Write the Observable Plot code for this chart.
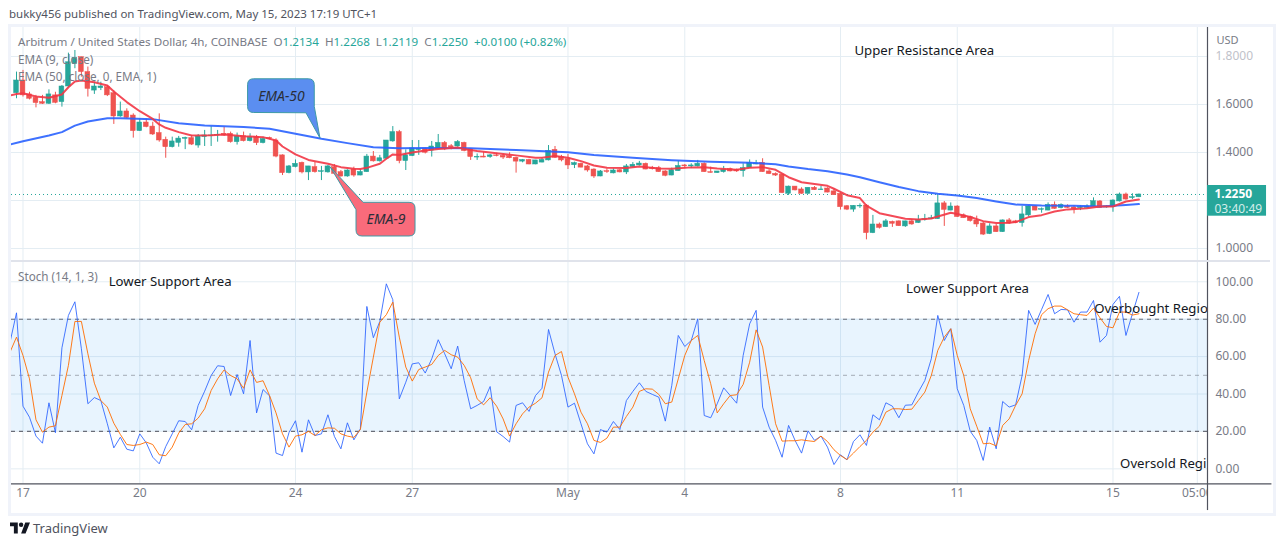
<!DOCTYPE html>
<html><head><meta charset="utf-8">
<script src="https://cdn.jsdelivr.net/npm/d3@7"></script>
<script src="https://cdn.jsdelivr.net/npm/@observablehq/plot@0.6"></script>
<style>
html,body{margin:0;padding:0;background:#fff;width:1280px;height:546px;overflow:hidden}
body{font-family:"Noto Sans",sans-serif;position:relative;color:#131722}
.abs{position:absolute;white-space:pre}
.g{color:#26a69a}
.leg{color:#787b86;font-size:11.7px;line-height:14px}
svg{display:block;overflow:visible}
</style></head><body>
<div class="abs" style="left:9px;top:6px;font-size:11.5px;line-height:16px;color:#50535e" id="pub"></div>
<div class="abs" style="left:8px;top:24px;width:1262px;height:486px;border:3px solid #f0f3fa"></div>
<div class="abs" style="left:11px;top:260px;width:1259px;height:2px;background:#e0e3eb"></div>
<div class="abs" id="top" style="left:0;top:27px"></div>
<div class="abs" id="bot" style="left:0;top:262px"></div>
<div class="abs leg" id="ohlc" style="left:18px;top:35px;font-size:11.62px"></div>
<div class="abs leg" id="ema9" style="left:18px;top:52px"></div>
<div class="abs leg" id="ema50" style="left:18px;top:69px"></div>
<div class="abs leg" id="st" style="left:18px;top:269px"></div>
<svg class="abs" style="left:10px;top:522px" width="20" height="12" viewBox="0 0 36 20"><path fill="#131722" d="M14 20H7V7H0V0h14v20zM28 20h-8l7.5-20H36l-8 20z"/><circle cx="20" cy="4" r="4" fill="#131722"/></svg>
<div class="abs" id="tv" style="left:33px;top:520px;font-size:13px;line-height:16px;color:#50535e"></div>
<script>
const publishedText = "bukky456 published on TradingView.com, May 15, 2023 17:19 UTC+1";
const symbolText = "Arbitrum / United States Dollar, 4h, COINBASE";
const ohlcLabels = ["O","H","L","C"];
const ohlcValues = ["1.2134","1.2268","1.2119","1.2250"];
const changeText = "+0.0100 (+0.82%)";
const ema9Text = "EMA (9, close)";
const ema50Text = "EMA (50, close, 0, EMA, 1)";
const stochText = "Stoch (14, 1, 3)";

// candles: first is index -1 (6.49px per 4h candle; index 0 = Apr 17 00:00)
const firstCandle = -1;
const opens = [1.647,1.700,1.642,1.628,1.610,1.603,1.638,1.610,1.675,1.769,
1.797,1.735,1.658,1.668,1.672,1.647,1.550,1.571,1.554,1.489,
1.525,1.508,1.481,1.453,1.422,1.440,1.457,1.460,1.429,1.464,
1.468,1.471,1.478,1.478,1.443,1.468,1.447,1.464,1.439,1.461,
1.450,1.388,1.314,1.339,1.357,1.317,1.339,1.319,1.317,1.339,
1.318,1.300,1.329,1.304,1.318,1.383,1.363,1.374,1.446,1.485,
1.364,1.385,1.410,1.415,1.408,1.415,1.440,1.426,1.425,1.440,
1.413,1.379,1.383,1.381,1.388,1.386,1.385,1.378,1.362,1.369,
1.350,1.358,1.367,1.411,1.381,1.372,1.347,1.353,1.342,1.329,
1.300,1.322,1.313,1.326,1.317,1.339,1.346,1.353,1.336,1.335,
1.321,1.304,1.322,1.346,1.342,1.342,1.353,1.318,1.314,1.318,
1.331,1.328,1.322,1.336,1.350,1.357,1.321,1.311,1.308,1.228,
1.258,1.246,1.228,1.253,1.243,1.250,1.238,1.228,1.176,1.162,
1.175,1.179,1.064,1.100,1.089,1.111,1.113,1.092,1.113,1.106,
1.119,1.122,1.122,1.188,1.158,1.175,1.138,1.131,1.117,1.104,
1.060,1.092,1.068,1.117,1.113,1.106,1.138,1.175,1.161,1.158,
1.182,1.168,1.175,1.171,1.168,1.169,1.175,1.196,1.171,1.172,
1.196,1.225,1.210,1.2134];
const highs = [1.735,1.742,1.651,1.638,1.638,1.661,1.651,1.679,1.814,1.825,
1.797,1.756,1.693,1.693,1.679,1.658,1.610,1.582,1.561,1.540,
1.540,1.526,1.561,1.464,1.464,1.467,1.464,1.471,1.475,1.492,
1.508,1.492,1.506,1.485,1.481,1.485,1.478,1.471,1.464,1.464,
1.457,1.390,1.346,1.369,1.360,1.342,1.360,1.342,1.346,1.350,
1.325,1.328,1.339,1.329,1.392,1.404,1.388,1.450,1.508,1.492,
1.411,1.450,1.450,1.418,1.446,1.475,1.446,1.433,1.450,1.443,
1.415,1.394,1.401,1.392,1.397,1.392,1.399,1.381,1.371,1.372,
1.367,1.378,1.429,1.425,1.388,1.392,1.360,1.356,1.346,1.332,
1.325,1.331,1.332,1.329,1.350,1.358,1.363,1.356,1.342,1.342,
1.324,1.335,1.364,1.350,1.353,1.367,1.357,1.339,1.321,1.342,
1.335,1.331,1.353,1.369,1.367,1.374,1.328,1.315,1.308,1.260,
1.258,1.253,1.254,1.258,1.260,1.253,1.249,1.231,1.179,1.179,
1.186,1.183,1.138,1.106,1.121,1.114,1.115,1.114,1.121,1.138,
1.142,1.138,1.225,1.196,1.190,1.178,1.144,1.135,1.135,1.110,
1.103,1.100,1.119,1.125,1.117,1.176,1.178,1.178,1.169,1.190,
1.194,1.186,1.182,1.178,1.178,1.182,1.211,1.200,1.178,1.203,
1.231,1.231,1.228,1.2268];
const lows = [1.624,1.631,1.619,1.586,1.600,1.600,1.603,1.589,1.672,1.749,
1.714,1.631,1.642,1.658,1.633,1.517,1.547,1.540,1.460,1.488,
1.503,1.471,1.443,1.376,1.419,1.422,1.412,1.429,1.418,1.425,
1.425,1.443,1.467,1.439,1.431,1.444,1.444,1.429,1.436,1.453,
1.378,1.304,1.311,1.336,1.311,1.283,1.314,1.283,1.314,1.308,
1.297,1.297,1.297,1.303,1.317,1.360,1.360,1.372,1.443,1.353,
1.325,1.383,1.388,1.394,1.381,1.413,1.408,1.411,1.422,1.403,
1.367,1.367,1.378,1.376,1.382,1.371,1.374,1.314,1.357,1.349,
1.349,1.357,1.365,1.375,1.361,1.329,1.333,1.336,1.318,1.292,
1.299,1.313,1.311,1.315,1.308,1.336,1.343,1.328,1.327,1.317,
1.299,1.303,1.321,1.332,1.333,1.339,1.317,1.314,1.313,1.314,
1.319,1.317,1.297,1.335,1.349,1.317,1.308,1.300,1.229,1.221,
1.240,1.226,1.226,1.242,1.242,1.232,1.221,1.160,1.158,1.151,
1.167,1.036,1.062,1.081,1.088,1.088,1.092,1.088,1.097,1.104,
1.114,1.121,1.121,1.092,1.157,1.129,1.125,1.110,1.088,1.054,
1.058,1.067,1.067,1.100,1.103,1.089,1.132,1.157,1.147,1.157,
1.163,1.165,1.167,1.144,1.158,1.168,1.174,1.168,1.168,1.151,
1.194,1.201,1.204,1.2119];
const closes = [1.700,1.638,1.624,1.606,1.603,1.642,1.607,1.675,1.776,1.794,
1.735,1.665,1.675,1.675,1.638,1.550,1.571,1.544,1.489,1.525,
1.506,1.475,1.450,1.422,1.446,1.458,1.461,1.433,1.467,1.471,
1.471,1.474,1.471,1.443,1.467,1.447,1.464,1.439,1.456,1.456,
1.383,1.314,1.342,1.353,1.317,1.342,1.318,1.322,1.342,1.311,
1.300,1.325,1.304,1.319,1.383,1.363,1.376,1.450,1.485,1.364,
1.388,1.417,1.415,1.399,1.425,1.440,1.413,1.421,1.444,1.406,
1.381,1.382,1.379,1.388,1.385,1.379,1.376,1.362,1.369,1.350,
1.367,1.369,1.407,1.378,1.367,1.346,1.356,1.337,1.325,1.300,
1.321,1.319,1.325,1.317,1.342,1.349,1.354,1.329,1.331,1.318,
1.303,1.326,1.344,1.342,1.346,1.353,1.318,1.315,1.321,1.328,
1.321,1.321,1.335,1.356,1.354,1.318,1.310,1.304,1.231,1.258,
1.242,1.228,1.253,1.243,1.246,1.233,1.222,1.172,1.162,1.178,
1.178,1.064,1.100,1.086,1.113,1.103,1.093,1.113,1.100,1.119,
1.122,1.126,1.188,1.161,1.175,1.131,1.126,1.114,1.100,1.058,
1.092,1.068,1.117,1.104,1.106,1.142,1.175,1.158,1.164,1.182,
1.165,1.182,1.169,1.164,1.172,1.175,1.197,1.169,1.175,1.200,
1.225,1.204,1.214,1.2250];

const ema9Idx = [-2,-1,0,2,4,6,7,8,9,11,13,14,16,18,20,21,22,24,26,29,31,34,37,39,40,42,44,47,49,51,52,53,55,56,57,58,60,62,64,67,68,70,73,76,79,80,82,84,86,88,90,93,95,98,100,103,105,107,110,112,114,116,118,120,122,124,125,127,129,130,132,134,136,138,140,141,143,144,146,148,150,152,153,155,157,159,161,164,166,168,170,172];
const ema9Val = [1.638,1.644,1.647,1.633,1.628,1.642,1.672,1.696,1.700,1.693,1.679,1.654,1.610,1.572,1.540,1.517,1.503,1.485,1.471,1.472,1.475,1.468,1.464,1.450,1.425,1.392,1.369,1.353,1.339,1.332,1.331,1.336,1.353,1.374,1.392,1.390,1.400,1.408,1.415,1.421,1.415,1.406,1.397,1.388,1.378,1.378,1.385,1.378,1.364,1.346,1.336,1.335,1.342,1.333,1.332,1.338,1.339,1.333,1.328,1.336,1.339,1.328,1.297,1.276,1.269,1.261,1.249,1.222,1.210,1.179,1.147,1.135,1.124,1.121,1.125,1.133,1.149,1.144,1.131,1.114,1.106,1.107,1.110,1.131,1.139,1.154,1.163,1.168,1.175,1.175,1.196,1.204];
const ema50Idx = [-2,0,4,6,8,10,13,15,20,24,28,34,38,42,46,50,54,58,62,69,76,84,88,94,100,106,112,116,118,121,124,127,129,132,135,138,141,144,147,150,153,157,162,166,170,172];
const ema50Val = [1.433,1.447,1.471,1.485,1.512,1.529,1.543,1.543,1.539,1.522,1.512,1.506,1.499,1.478,1.457,1.439,1.422,1.418,1.419,1.418,1.410,1.401,1.390,1.378,1.368,1.361,1.357,1.351,1.342,1.331,1.322,1.308,1.297,1.276,1.256,1.239,1.228,1.221,1.210,1.196,1.183,1.179,1.178,1.175,1.181,1.185];

// stochastic: first is index -2
const firstStoch = -2;
const stochK = [67.7,83.4,33.5,27.6,17.5,13.7,35.3,19.3,64.7,82.0,89.3,64.2,34.8,38.1,36.5,24.1,11.2,16.9,10.5,9.6,
18.7,13.9,6.2,2.7,11.9,18.7,25.7,25.3,20.9,33.9,41.5,49.9,55.1,54.7,39.2,50.4,40.1,68.6,29.9,42.4,
39.0,8.4,7.1,19.4,25.7,8.9,26.2,17.8,18.7,28.9,17.3,10.7,24.6,15.5,21.4,86.8,70.1,78.8,98.9,90.4,
37.4,46.3,56.1,56.7,51.2,58.8,69.0,61.5,53.5,65.6,47.2,32.1,33.9,36.0,44.0,19.8,17.3,14.3,33.9,35.3,
30.7,39.2,43.1,74.5,61.5,49.9,33.0,35.1,24.1,13.4,8.0,21.0,19.6,25.3,21.0,36.5,41.4,46.0,41.4,39.8,
38.3,25.5,44.6,71.3,65.4,68.6,80.2,28.5,27.3,34.8,43.3,39.2,35.1,60.6,77.5,84.7,33.0,22.3,15.2,6.2,
23.2,15.2,8.4,20.3,15.2,17.5,11.6,2.3,7.5,4.8,14.6,18.2,12.5,28.9,26.2,35.3,33.5,27.3,34.0,34.2,
41.0,47.2,58.8,82.0,68.6,74.9,42.8,33.9,20.1,15.2,4.5,22.3,10.7,36.0,33.0,34.2,49.9,84.7,77.2,85.2,
93.2,82.9,85.2,85.0,78.4,83.8,83.8,90.0,67.7,71.3,87.9,92.2,71.3,82.9,94.3];
const stochD = [62.4,70.4,60.6,48.1,26.2,19.6,22.3,23.0,39.2,55.3,78.8,78.8,61.5,45.8,36.5,33.0,24.4,18.4,13.0,12.5,
13.0,14.3,13.0,7.5,7.0,11.6,19.1,23.7,24.1,27.1,32.1,41.9,48.1,52.9,49.9,48.1,43.1,52.9,46.2,47.1,
39.2,29.9,18.7,11.6,17.5,18.2,20.0,17.8,20.9,21.9,21.7,18.7,17.5,16.8,21.0,41.0,59.7,78.4,82.4,89.1,
70.4,54.4,46.9,53.1,54.4,55.8,60.6,63.3,61.0,59.7,55.3,48.7,37.4,34.2,38.0,33.5,26.7,17.5,24.1,29.4,
33.0,35.1,38.0,51.7,60.6,62.7,49.0,40.1,30.3,24.1,15.2,14.1,16.4,22.3,22.3,28.0,33.0,41.4,42.8,42.6,
39.8,34.8,35.7,48.1,60.6,68.6,71.3,57.9,45.5,29.9,34.8,39.2,39.6,45.1,57.0,74.3,65.1,44.6,24.1,14.8,
15.0,15.0,15.5,15.0,14.6,17.5,14.6,10.2,7.1,5.0,8.4,11.9,15.2,19.6,22.8,30.3,32.1,32.1,31.7,31.9,
36.5,41.0,49.9,63.3,70.4,74.9,60.6,49.9,32.1,22.8,13.4,13.7,12.3,23.2,26.7,33.9,40.1,57.9,72.2,82.4,
85.6,87.0,87.0,85.0,82.9,82.4,82.0,85.9,80.7,76.1,75.4,83.8,83.8,82.2,82.9];

const timeTickIdx = [0,18,42,60,84,102,126,144,168,181];
const timeTickLabels = ["17","20","24","27","May","4","8","11","15","05:00"];
const priceTicks = [1.0,1.4,1.6];
const fadedPriceTicks = [1.8];
const priceGrid = [1.0,1.2,1.4,1.6,1.8];
const stochTicks = [0,20,40,60,80,100];
const lastPrice = 1.2250;
const countdown = "03:40:49";
const lastPriceText = "1.2250";

const UP="#26a69a", DOWN="#ef5350", GRID="#e4edf3", TXT="#787b86", AXIS="#50535e";
const FONT='"Noto Sans",sans-serif';
const xMin=-1.772, xMax=182.57, xPanel=192.3;
const W=1280, ML=11, MR=73;

document.getElementById("pub").textContent=publishedText;
document.getElementById("ema9").textContent=ema9Text;
document.getElementById("ema50").textContent=ema50Text;
document.getElementById("st").textContent=stochText;
document.getElementById("tv").textContent="TradingView";
document.getElementById("ohlc").innerHTML=symbolText+"  "+ohlcLabels.map((l,i)=>l+'<span class="g">'+ohlcValues[i]+'</span>').join("  ")+'  <span class="g">'+changeText+'</span>';

const candles=opens.map((o,i)=>({k:i+firstCandle,o,h:highs[i],l:lows[i],c:closes[i],up:closes[i]>=o}));
const colorOf=d=>d.up?UP:DOWN;
const ema9=ema9Idx.map((k,i)=>({k,v:ema9Val[i]}));
const ema50=ema50Idx.map((k,i)=>({k,v:ema50Val[i]}));
const kLine=stochK.map((v,i)=>({k:i+firstStoch,v}));
const dLine=stochD.map((v,i)=>({k:i+firstStoch,v}));

function callout(tipK,tipP,box,base,fill,stroke){
  return (index,scales)=>{
    const X=scales.x(tipK),Y=scales.y(tipP),r=6;
    const [x0,x1,y0,y1]=[X+box[0],X+box[1],Y+box[2],Y+box[3]];
    const p=d3.path();
    const pts=base.map(b=>[X+b[0],Y+b[1]]);
    if(base.kind==="br"){
      p.moveTo(x0+r,y0);p.lineTo(x1-r,y0);p.quadraticCurveTo(x1,y0,x1,y0+r);
      p.lineTo(pts[0][0],pts[0][1]);p.lineTo(X,Y);p.lineTo(pts[1][0],pts[1][1]);
      p.lineTo(x0+r,y1);p.quadraticCurveTo(x0,y1,x0,y1-r);p.lineTo(x0,y0+r);p.quadraticCurveTo(x0,y0,x0+r,y0);
    } else {
      p.moveTo(pts[0][0],pts[0][1]);p.lineTo(x1-r,y0);p.quadraticCurveTo(x1,y0,x1,y0+r);
      p.lineTo(x1,y1-r);p.quadraticCurveTo(x1,y1,x1-r,y1);p.lineTo(x0+r,y1);p.quadraticCurveTo(x0,y1,x0,y1-r);
      p.lineTo(pts[1][0],pts[1][1]);p.lineTo(X,Y);p.lineTo(pts[0][0],pts[0][1]);
    }
    p.closePath();
    const g=d3.create("svg:path").attr("d",p.toString()).attr("fill",fill).attr("stroke",stroke).attr("stroke-width",1);
    return g.node();
  };
}
const base50=[[-5.7,-31.7],[-14,-25.3]];base50.kind="br";
const base9=[[33,35.6],[26,43]];base9.kind="tl";

const topPlot=Plot.plot({
  width:W,height:233,marginLeft:ML,marginRight:MR,marginTop:0,marginBottom:0,
  style:{background:"transparent",fontFamily:FONT,fontSize:"12px",overflow:"visible"},
  x:{domain:[xMin,xMax],axis:null},
  y:{domain:[0.95,1.9208]},
  marks:[
    Plot.ruleX(timeTickIdx,{stroke:GRID,strokeWidth:1}),
    Plot.ruleY(priceGrid,{stroke:GRID,strokeWidth:1}),
    Plot.ruleY([lastPrice],{stroke:UP,strokeDasharray:"1 3",strokeWidth:1}),
    Plot.ruleX(candles,{x:"k",y1:"l",y2:"h",stroke:colorOf,strokeWidth:1,clip:true}),
    Plot.rect(candles,{x1:d=>d.k-0.37,x2:d=>d.k+0.37,y1:"o",y2:"c",fill:colorOf,stroke:colorOf,strokeWidth:0.5,clip:true}),
    Plot.line(ema50,{x:"k",y:"v",stroke:"#2962ff",strokeWidth:2,strokeOpacity:.9,clip:true}),
    Plot.line(ema9,{x:"k",y:"v",stroke:"#f23645",strokeWidth:2,strokeOpacity:.9,clip:true}),
    callout(45.85,1.458,[-72.4,-5.7,-59.3,-25.6],base50,"#5b8ef0","#3e9aa6"),
    Plot.text(["EMA-50"],{x:[45.85],y:[1.458],dx:-39,dy:-42,fill:"#2a2e39",fontSize:14,fontStyle:"italic"}),
    callout(47.4,1.3388,[26,85,35.6,69.3],base9,"#f96b7b","#3e9aa6"),
    Plot.text(["EMA-9"],{x:[47.4],y:[1.3388],dx:55.5,dy:52.5,fill:"#2a2e39",fontSize:14,fontStyle:"italic"}),
    Plot.text(["Upper Resistance Area"],{x:[128.15],y:[1.825],textAnchor:"start",fill:"#131722",fontSize:13.2}),
    Plot.ruleX([xMax],{stroke:AXIS,strokeWidth:1.2}),
    Plot.axisY(priceTicks,{anchor:"right",tickSize:0,tickPadding:8,label:null,fill:TXT,fontSize:12,tickFormat:d3.format(".4f")}),
    Plot.axisY(fadedPriceTicks,{anchor:"right",tickSize:0,tickPadding:8,label:null,fill:"#bfc2ca",fontSize:12,tickFormat:d3.format(".4f")}),
    Plot.text(["USD"],{x:[xMax],y:[1.8667],dx:9,textAnchor:"start",fill:TXT,fontSize:11}),
    Plot.rect([lastPrice],{x1:[xMax],x2:[xMax+9.1],y1:[1.1346],y2:[1.2625],fill:UP}),
    Plot.text([lastPriceText],{x:[xMax],y:[lastPrice],dx:7,dy:0,textAnchor:"start",fill:"#fff",fontSize:12,fontWeight:"bold"}),
    Plot.text([countdown],{x:[xMax],y:[lastPrice],dx:7,dy:15,textAnchor:"start",fill:"#d4eeea",fontSize:12})
  ]
});
document.getElementById("top").append(topPlot);

const botPlot=Plot.plot({
  width:W,height:248,marginLeft:ML,marginRight:MR,marginTop:0,marginBottom:26.7,
  style:{background:"transparent",fontFamily:FONT,fontSize:"12px",overflow:"visible"},
  x:{domain:[xMin,xMax],axis:null},
  y:{domain:[-8,110.3]},
  marks:[
    Plot.ruleX(timeTickIdx,{stroke:GRID,strokeWidth:1}),
    Plot.ruleY(stochTicks,{stroke:GRID,strokeWidth:1}),
    Plot.rect([0],{x1:[xMin],x2:[xMax],y1:[20],y2:[80],fill:"#2196f3",fillOpacity:.1}),
    Plot.ruleY([20,80],{stroke:"#6a6d78",strokeDasharray:"4 4",strokeWidth:1.1}),
    Plot.ruleY([50],{stroke:"#787b86",strokeOpacity:.6,strokeDasharray:"4 4",strokeWidth:1}),
    Plot.line(kLine,{x:"k",y:"v",stroke:"#2962ff",strokeWidth:1,strokeOpacity:.85,clip:true}),
    Plot.line(dLine,{x:"k",y:"v",stroke:"#ff6d00",strokeWidth:1,strokeOpacity:.9,clip:true}),
    Plot.text(["Lower Support Area"],{x:[13.2],y:[100.1],textAnchor:"start",fill:"#131722",fontSize:13.2}),
    Plot.text(["Lower Support Area"],{x:[136.1],y:[96.4],textAnchor:"start",fill:"#131722",fontSize:13.2}),
    Plot.text(["Overbought Region"],{x:[165.1],y:[85.7],textAnchor:"start",fill:"#131722",fontSize:13.2}),
    Plot.text(["Oversold Regi"],{x:[169.1],y:[2.8],textAnchor:"start",fill:"#131722",fontSize:13.2}),
    Plot.axisX(timeTickIdx,{anchor:"bottom",tickSize:0,tickPadding:5,label:null,fill:TXT,fontSize:12,
      tickFormat:d=>timeTickLabels[timeTickIdx.indexOf(d)]}),
    Plot.rect([0],{x1:[xMax],x2:[xPanel+0.2],y1:[-22.3],y2:[110.3],fill:"#fff"}),
    Plot.ruleY([-8],{x1:xMin,x2:xPanel+0.2,stroke:AXIS,strokeWidth:1.2}),
    Plot.ruleX([xMax],{y1:110.3,y2:-22.3,stroke:AXIS,strokeWidth:1.2}),
    Plot.axisY(stochTicks,{anchor:"right",tickSize:0,tickPadding:8,label:null,fill:TXT,fontSize:12,tickFormat:d3.format(".2f")})
  ]
});
document.getElementById("bot").append(botPlot);
</script>
</body></html>
